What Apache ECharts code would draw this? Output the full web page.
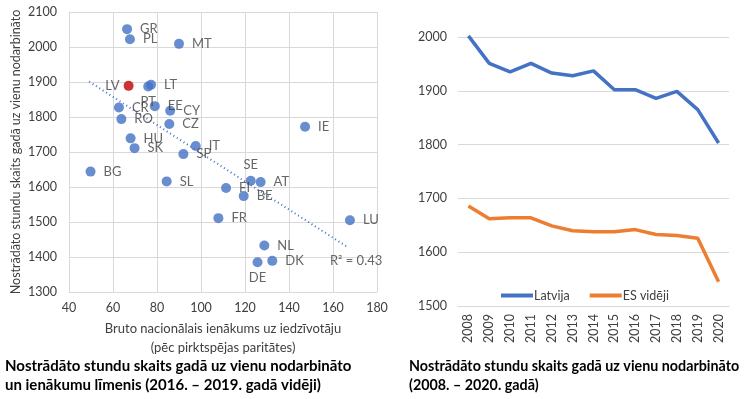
<!DOCTYPE html>
<html>
<head>
<meta charset="utf-8">
<script src="https://cdn.jsdelivr.net/npm/echarts@6/dist/echarts.min.js"></script>
<style>
  html, body { margin: 0; padding: 0; background: #fff; }
  #chart { width: 750px; height: 399px; }
</style>
</head>
<body>
<div id="chart"></div>
<script>
// kreisais grafiks: valstis
var countries = ["GR", "PL", "MT", "LV", "LT", "PT", "CR", "EE", "CY", "RO", "CZ", "HU", "SK", "IT", "SP", "BG", "SL", "FI", "FR", "SE", "AT", "BE", "LU", "NL", "DK", "DE", "IE"];
var income = [66.4, 67.7, 90, 67.1, 77.3, 76, 62.7, 79, 86, 63.8, 85.6, 68, 69.8, 97.6, 92, 49.8, 84.4, 111.4, 107.9, 122.6, 127.1, 119.4, 167.7, 128.8, 132.4, 125.7, 147.3];
var hours = [2051, 2022, 2009, 1889, 1892, 1887, 1827, 1831, 1818, 1794, 1780, 1739, 1711, 1717, 1694, 1644, 1616, 1597, 1511, 1618, 1614, 1574, 1505, 1433, 1389, 1385, 1772];
// tendences līnija
var trendX = [49.2, 166.7];
var trendY = [1901, 1428];

// labais grafiks
var years = ["2008", "2009", "2010", "2011", "2012", "2013", "2014", "2015", "2016", "2017", "2018", "2019", "2020"];
var latvija = [2002, 1951, 1935, 1951, 1933, 1928, 1937, 1902, 1902, 1886, 1899, 1865, 1803];
var esVideji = [1686, 1662, 1664, 1664, 1649, 1640, 1638, 1638, 1642, 1633, 1631, 1626, 1545];

var font = "Lato, 'Open Sans', sans-serif";
var txt = "#404040";
var grid = "#d9d9d9";

// etiķešu novietojums
var labelPos = { LV: "left", PT: "bottom", SE: "top", DE: "bottom" };

var scatterData = [];
for (var i = 0; i < countries.length; i++) {
  var pos = labelPos[countries[i]] || "right";
  scatterData.push({
    name: countries[i],
    value: [income[i], hours[i]],
    itemStyle: { color: countries[i] == "LV" ? "#C00000" : "#4472C4" },
    label: { position: pos, distance: pos == "right" ? 8 : 4 }
  });
}
var trendData = [];
for (var i = 0; i < trendX.length; i++) {
  trendData.push([trendX[i], trendY[i]]);
}

function plain(v) {
  return String(v);
}

var myChart = echarts.init(document.getElementById("chart"));
var option = {
  animation: false,
  textStyle: { fontFamily: font },
  title: [
    {
      text: "Nostrādāto stundu skaits gadā uz vienu nodarbināto\nun ienākumu līmenis (2016. – 2019. gadā vidēji)",
      left: 5,
      top: 357,
      padding: 0,
      textStyle: { fontFamily: font, fontSize: 15, fontWeight: "bold", color: "#000", lineHeight: 19 }
    },
    {
      text: "Nostrādāto stundu skaits gadā uz vienu nodarbināto\n(2008. – 2020. gadā)",
      left: 409,
      top: 357,
      padding: 0,
      textStyle: { fontFamily: font, fontSize: 14.3, fontWeight: "bold", color: "#000", lineHeight: 19 }
    }
  ],
  legend: {
    left: 496,
    top: 284,
    icon: "rect",
    itemWidth: 32,
    itemHeight: 4,
    itemGap: 20,
    data: ["Latvija", "ES vidēji"],
    textStyle: { fontFamily: font, fontSize: 12.5, color: txt, padding: [0, 0, 0, -4] }
  },
  grid: [
    { left: 69, right: 373, top: 12, bottom: 107 },
    { left: 458, right: 21, top: 37, bottom: 93 }
  ],
  xAxis: [
    {
      gridIndex: 0,
      type: "value",
      min: 40,
      max: 180,
      interval: 20,
      name: "Bruto nacionālais ienākums uz iedzīvotāju\n(pēc pirktspējas paritātes)",
      nameLocation: "middle",
      nameGap: 25,
      nameTextStyle: { fontFamily: font, fontSize: 13, color: txt, lineHeight: 19, verticalAlign: "top" },
      axisLine: { lineStyle: { color: grid } },
      axisTick: { show: false },
      axisLabel: { fontFamily: font, fontSize: 12.5, color: txt, margin: 9 },
      splitLine: { show: true, lineStyle: { color: grid } }
    },
    {
      gridIndex: 1,
      type: "category",
      data: years,
      boundaryGap: true,
      axisLine: { lineStyle: { color: grid } },
      axisTick: { show: false },
      axisLabel: { fontFamily: font, fontSize: 12.5, color: txt, rotate: 90, margin: 8 }
    }
  ],
  yAxis: [
    {
      gridIndex: 0,
      type: "value",
      min: 1300,
      max: 2100,
      interval: 100,
      name: "Nostrādāto stundu skaits gadā uz vienu nodarbināto",
      nameLocation: "middle",
      nameGap: 47,
      nameTextStyle: { fontFamily: font, fontSize: 12.5, color: txt },
      axisLine: { show: true, lineStyle: { color: grid } },
      axisTick: { show: false },
      axisLabel: { fontFamily: font, fontSize: 12.5, color: txt, margin: 12, formatter: plain },
      splitLine: { show: true, lineStyle: { color: grid } }
    },
    {
      gridIndex: 1,
      type: "value",
      min: 1500,
      max: 2000,
      interval: 100,
      axisLine: { show: false },
      axisTick: { show: false },
      axisLabel: { fontFamily: font, fontSize: 12.5, color: txt, margin: 11, formatter: plain },
      splitLine: { show: true, lineStyle: { color: grid } }
    }
  ],
  series: [
    {
      name: "trend",
      type: "line",
      xAxisIndex: 0,
      yAxisIndex: 0,
      data: trendData,
      symbol: "none",
      lineStyle: { color: "#4472C4", width: 2, type: [1, 3] },
      silent: true,
      z: 1
    },
    {
      name: "valstis",
      type: "scatter",
      xAxisIndex: 0,
      yAxisIndex: 0,
      symbolSize: 10,
      data: scatterData,
      label: {
        show: true,
        formatter: "{b}",
        fontFamily: font,
        fontSize: 13,
        color: txt
      },
      z: 3
    },
    {
      name: "r2",
      type: "scatter",
      xAxisIndex: 0,
      yAxisIndex: 0,
      symbolSize: 0,
      data: [[170.5, 1389]],
      label: { show: true, formatter: "R² = 0.43", position: "inside", fontFamily: font, fontSize: 13, color: txt },
      silent: true
    },
    {
      name: "Latvija",
      type: "line",
      xAxisIndex: 1,
      yAxisIndex: 1,
      data: latvija,
      symbol: "none",
      clip: false,
      itemStyle: { color: "#4472C4" },
      lineStyle: { color: "#4472C4", width: 3.5 }
    },
    {
      name: "ES vidēji",
      type: "line",
      xAxisIndex: 1,
      yAxisIndex: 1,
      data: esVideji,
      symbol: "none",
      clip: false,
      itemStyle: { color: "#ED7D31" },
      lineStyle: { color: "#ED7D31", width: 3.5 }
    }
  ]
};
myChart.setOption(option);
</script>
</body>
</html>
